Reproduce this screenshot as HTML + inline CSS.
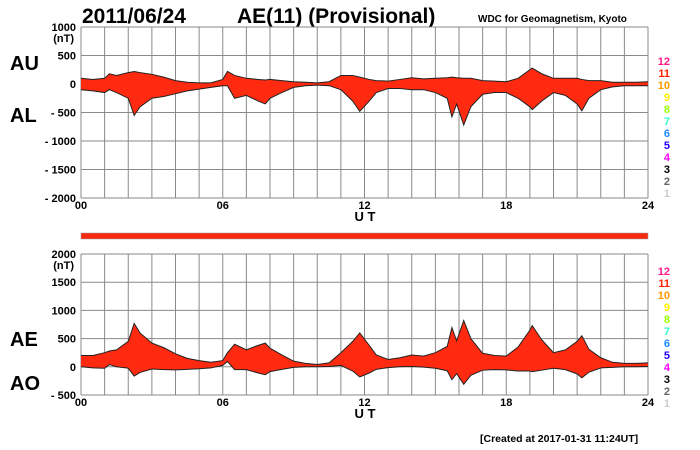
<!DOCTYPE html>
<html><head><meta charset="utf-8"><style>
body{margin:0;background:#fff}
svg{display:block;font-family:"Liberation Sans",Arial,sans-serif}
</style></head><body>
<svg id="c" width="700" height="450" viewBox="0 0 700 450">
<text x="82" y="23" font-size="21" font-weight="bold">2011/06/24</text>
<text x="237" y="23" font-size="21" font-weight="bold">AE(11) (Provisional)</text>
<text x="478" y="22" font-size="10" font-weight="bold">WDC for Geomagnetism, Kyoto</text>
<text x="10" y="70" font-size="20" font-weight="bold">AU</text>
<text x="10" y="122" font-size="20" font-weight="bold">AL</text>
<text x="10" y="346" font-size="20" font-weight="bold">AE</text>
<text x="10" y="390" font-size="20" font-weight="bold">AO</text>
<rect x="81" y="233" width="567" height="6" fill="#f52a10" stroke="#999" stroke-width="0.5"/>
<text x="480" y="442" font-size="10.5" font-weight="bold">[Created at 2017-01-31 11:24UT]</text>
<g id="g"></g>
</svg>
<script>
const times=[0,0.5,1,1.2,1.5,2,2.25,2.5,3,3.5,4,4.5,5,5.5,6,6.2,6.5,7,7.5,7.8,8,8.5,9,9.5,10,10.5,11,11.5,11.8,12.2,12.5,13,13.5,14,14.5,15,15.5,15.7,15.9,16.2,16.5,17,17.5,18,18.5,19,19.1,19.5,20,20.5,21,21.2,21.5,22,22.5,23,23.5,24];
const au=[100,80,100,180,150,200,220,200,170,120,60,30,20,20,80,220,150,100,80,70,80,60,40,30,20,40,150,150,120,80,60,50,80,110,90,100,110,120,110,100,100,60,50,40,100,250,280,180,100,100,100,80,60,60,30,30,30,40];
const al=[-100,-120,-150,-100,-150,-250,-550,-400,-250,-220,-170,-120,-90,-60,-30,-30,-250,-200,-300,-350,-250,-150,-60,-30,-20,-30,-100,-300,-480,-300,-150,-80,-80,-100,-100,-150,-250,-575,-350,-720,-400,-180,-150,-150,-250,-400,-450,-300,-150,-200,-350,-470,-250,-100,-50,-30,-30,-30];
const topTicks=[1000,500,0,-500,-1000,-1500,-2000];
const botTicks=[2000,1500,1000,500,0,-500];
const hourLabels=["00","06","12","18","24"];
const legendNums=["12","11","10","9","8","7","6","5","4","3","2","1"];
const legendCols=["#ff1a8c","#ff2000","#ff9900","#ffee00","#99ff00","#33ffcc","#1a8cff","#2200ff","#ff00ff","#000","#666","#ccc"];
const ae=au.map((v,i)=>v-al[i]);
const ao=au.map((v,i)=>(v+al[i])/2);
const NS="http://www.w3.org/2000/svg",g=document.getElementById('g');
const X0=81,X1=648;
const x=h=>X0+h*(X1-X0)/24;
function mk(t,a){const e=document.createElementNS(NS,t);for(const k in a)e.setAttribute(k,a[k]);g.appendChild(e);return e;}
function panel(y0,y1,vmax,vmin,ticks,upper,lower,name,legTop){
 const y=v=>y0+(vmax-v)*(y1-y0)/(vmax-vmin);
 for(let h=0;h<=24;h++){const l=mk('line',{x1:x(h),x2:x(h),y1:y0,y2:y1,stroke:'#8a8a8a','stroke-width':1});
  }
 ticks.forEach((t,i)=>{const l=mk('line',{x1:X0,x2:X1,y1:y(t),y2:y(t),stroke:'#8a8a8a','stroke-width':1});
  
  const s=(t<0?'- '+(-t):String(t));
  const tx=mk('text',{x:76,y:y(t)+4,'font-size':11,'font-weight':'bold','text-anchor':'end'});tx.textContent=s;
  });
 const u=mk('text',{x:74,y:y(ticks[0])+15,'font-size':11,'font-weight':'bold','text-anchor':'end'});u.textContent='(nT)';
 
 let d='M'+times.map((t,i)=>x(t)+','+y(upper[i])).join('L');
 for(let i=times.length-1;i>=0;i--)d+='L'+x(times[i])+','+y(lower[i]);
 const a=mk('path',{d:d+'Z',fill:'#ff2a10',stroke:'none'});
 [upper,lower].forEach((s,k)=>{const p=mk('path',{d:'M'+times.map((t,i)=>x(t)+','+y(s[i])).join('L'),fill:'none',stroke:'#222','stroke-width':1});
  });
 hourLabels.forEach((s,i)=>{const t=mk('text',{x:x(i*6),y:y1+11,'font-size':11,'font-weight':'bold','text-anchor':'middle'});t.textContent=s;
  });
 const ut=mk('text',{x:365,y:y1+23,'font-size':13,'font-weight':'bold','text-anchor':'middle'});ut.textContent='U T';
 
 legendNums.forEach((s,i)=>{const t=mk('text',{x:670,y:legTop+i*12,'font-size':11,'font-weight':'bold','text-anchor':'end',fill:legendCols[i]});t.textContent=s;
  });
}
panel(27,198,1000,-2000,topTicks,au,al,'au-al',65);
panel(254,395,2000,-500,botTicks,ae,ao,'ae-ao',275);
</script>
</body></html>
